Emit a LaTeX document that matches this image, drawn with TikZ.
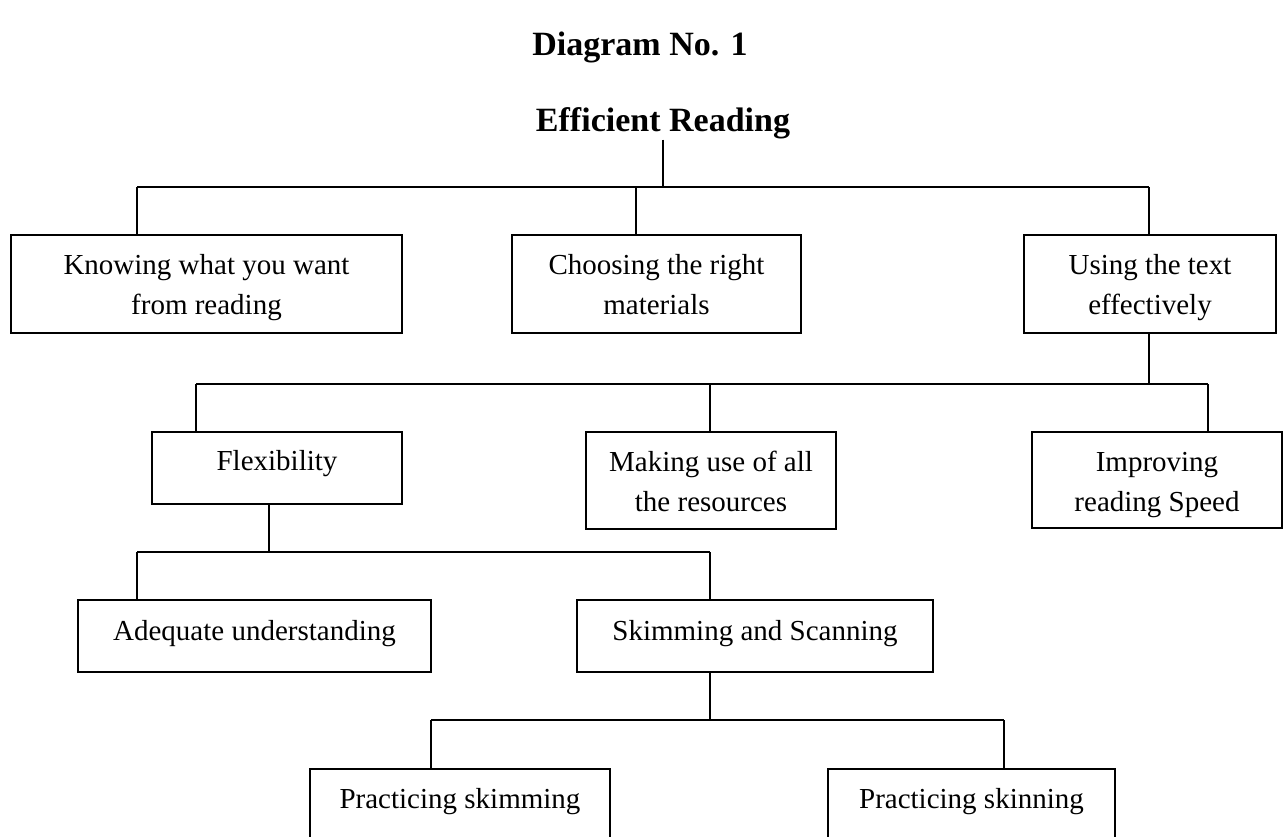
\documentclass[tikz,border=0pt]{standalone}
\usepackage{fontspec}
\setmainfont{Liberation Serif}
\newcommand\tlines[2]{\begin{tabular}[t]{@{}c@{}}#1\\#2\end{tabular}}
\begin{document}
\begin{tikzpicture}[x=1pt,y=-1pt,
  box/.style={draw,line width=2pt,align=center,inner sep=0pt,font=\fontsize{29}{40}\selectfont},
  link/.style={line width=1.6pt},
  heading/.style={font=\bfseries\fontsize{34}{40}\selectfont,anchor=base,inner sep=0pt}]
\useasboundingbox (0,0) rectangle (1284,837);
\clip (0,0) rectangle (1284,837);

% headings
\node[heading] (title) at (640,56) {Diagram No. 1};
\node[heading] (root) at (663,132) {Efficient Reading};

% level 1
\node[box,minimum width=391pt,minimum height=98pt,text height=20pt,text depth=40pt] (b1) at (206.5,284) {\tlines{Knowing what you want}{from reading}};
\node[box,minimum width=289pt,minimum height=98pt,text height=20pt,text depth=40pt] (b2) at (656.5,284) {\tlines{Choosing the right}{materials}};
\node[box,minimum width=252pt,minimum height=98pt,text height=20pt,text depth=40pt] (b3) at (1150,284) {\tlines{Using the text}{effectively}};

% level 2
\node[box,minimum width=250pt,minimum height=72pt,text height=24pt,text depth=20pt] (flex) at (277,468) {Flexibility};
\node[box,minimum width=250pt,minimum height=97pt,text height=20pt,text depth=39pt] (res) at (711,480.5) {\tlines{Making use of all}{the resources}};
\node[box,minimum width=250pt,minimum height=96pt,text height=20pt,text depth=38pt] (speed) at (1157,480) {\tlines{Improving}{reading Speed}};

% level 3
\node[box,minimum width=353pt,minimum height=72pt,text height=29pt,text depth=20pt] (adeq) at (254.5,636) {Adequate understanding};
\node[box,minimum width=356pt,minimum height=72pt,text height=29pt,text depth=20pt] (skim) at (755,636) {Skimming and Scanning};

% level 4 (boxes run off the bottom edge)
\node[box,anchor=north,minimum width=300pt,text height=39pt,text depth=70pt] (p1) at (460,768) {Practicing skimming};
\node[box,anchor=north,minimum width=287pt,text height=39pt,text depth=70pt] (p2) at (971.5,768) {Practicing skinning};

% junction coordinates
\coordinate (s1) at (137,187);
\coordinate (s2) at (636,187);
\coordinate (s3) at (1149,187);
\coordinate (t1) at (196,384);
\coordinate (t2) at (710,384);
\coordinate (t3) at (1149,384);
\coordinate (t4) at (1208,384);
\coordinate (u0) at (269,552);
\coordinate (u1) at (137,552);
\coordinate (u2) at (710,552);
\coordinate (v0) at (710,720);
\coordinate (v1) at (431,720);
\coordinate (v2) at (1004,720);

% level 1 connectors
\draw[link] (root.south) -- (root.south |- s1);
\draw[link] (s1) -- (s3);
\draw[link] (s1) -- (s1 |- b1.north);
\draw[link] (s2) -- (s2 |- b2.north);
\draw[link] (s3) -- (s3 |- b3.north);

% level 2 connectors
\draw[link] (t3 |- b3.south) -- (t3);
\draw[link] (t1) -- (t4);
\draw[link] (t1) -- (t1 |- flex.north);
\draw[link] (t2) -- (t2 |- res.north);
\draw[link] (t4) -- (t4 |- speed.north);

% level 3 connectors
\draw[link] (u0 |- flex.south) -- (u0);
\draw[link] (u1) -- (u2);
\draw[link] (u1) -- (u1 |- adeq.north);
\draw[link] (u2) -- (u2 |- skim.north);

% level 4 connectors
\draw[link] (v0 |- skim.south) -- (v0);
\draw[link] (v1) -- (v2);
\draw[link] (v1) -- (v1 |- p1.north);
\draw[link] (v2) -- (v2 |- p2.north);
\end{tikzpicture}
\end{document}
